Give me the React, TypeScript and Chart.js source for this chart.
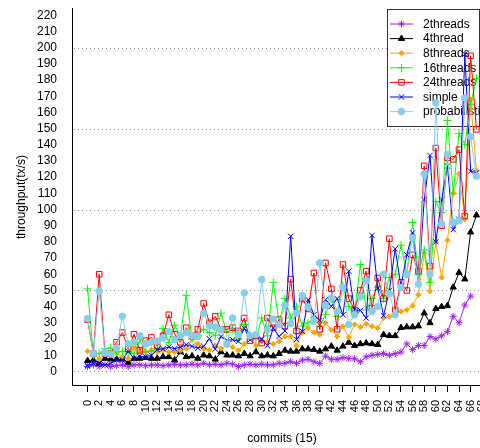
import React, { useEffect, useRef } from 'react';
import { Chart, registerables } from 'chart.js';

Chart.register(...registerables);

// ---------- data ----------
const commits: number[] = Array.from({ length: 68 }, (_, i) => i);

const xTickValues: number[] = [0, 2, 4, 6, 8, 10, 12, 14, 16, 18, 20, 22, 24, 26, 28, 30, 32, 34, 36, 38, 40, 42, 44, 46, 48, 50, 52, 54, 56, 58, 60, 62, 64, 66, 68];
const yTickValues: number[] = [0, 10, 20, 30, 40, 50, 60, 70, 80, 90, 100, 110, 120, 130, 140, 150, 160, 170, 180, 190, 200, 210, 220];
const gridValues: number[] = [0, 50, 100, 150, 200];

const seriesNames: string[] = ['2threads', '4thread', '8threads', '16threads', '24threads', 'simple', 'probabilistic'];

const threads2: (number | null)[] = [
  3, 4, 3, 4, 3, 3.5, 4, 3, 4, 4,
  3.5, 4, 4, 3.5, 4, 4.5, 4, 4, 4.5, 4,
  5, 4, 4.5, 4, 5, 4.5, 3, 4, 4.5, 4,
  4.5, 4, 4, 5, 5, 6, 5, 7, 7.5, 6,
  5, 9.5, 7.5, 7.5, 8.5, 8, 7.8, 6, 9, 10,
  10.5, 11, 10, 11, 12, 17, 13.5, 16, 16, 21.5,
  20, 22, 24.5, 34, 30, 41, 46.5, null,
];
const thread4: number[] = [
  6.6, 7, 5, 8, 7.5, 7.5, 7.5, 5.5, 8, 8,
  8.5, 8, 8, 9, 9, 7, 12, 9, 9.5, 8,
  10, 9.5, 7.5, 12, 10, 10, 9.5, 11, 9.5, 12,
  9.5, 10, 9.5, 11, 13, 12.4, 12.4, 13.8, 13.8, 13.4,
  12.4, 13.8, 15.5, 13, 15.5, 17.9, 15.9, 17, 17.5, 17,
  16.5, 22.7, 22, 22, 27, 27.4, 27.4, 28, 36, 30,
  38.7, 40, 40.5, 52, 61, 57, 86, 96.5,
];
const threads8: number[] = [
  12.4, 12, 7.6, 11, 11, 11, 9, 8, 15, 12,
  12, 13, 12, 13, 12, 12, 13, 14, 20, 17,
  14, 13, 16, 14, 16, 15, 13, 17, 21, 16,
  18.6, 18, 17, 18.6, 21.6, 21.6, 15.9, 24, 26.8, 24,
  22.7, 29.9, 25.8, 21.6, 27.8, 21, 29, 27.4, 29.4, 27.8,
  26.8, 33, 34, 36, 37, 38, 40.6, 47.4, 73, 49.5,
  80, 58, 81, 110, 122, 94, 168, 124,
];
const threads16: number[] = [
  51, 10, 11, 14, 14.4, 12, 12.4, 12, 11, 19.6,
  12, 12.5, 14, 26.4, 18, 28.5, 22, 47, 20, 22,
  26, 24, 22, 36, 24, 26, 20, 29, 22, 20,
  33, 22, 55, 30, 45, 33, 40, 28, 30, 33,
  28, 35, 45, 34, 53, 40, 36, 66, 38, 45,
  52, 45, 58, 60, 78, 60, 92, 60, 75, 55,
  105, 98, 155, 110, 147, 140, 165, 181,
];
const threads24: number[] = [
  32, 11, 60, 11, 11, 18, 24, 14, 23, 13,
  19, 21, 16, 22, 35, 23, 18, 27, 22, 26,
  42, 30, 34, 26, 26, 27, 25, 33, 19, 22,
  17.5, 33, 27, 32, 28, 57, 25, 44.7, 38.6, 60.8,
  26, 67, 51, 26, 66, 45, 38, 50, 62, 39,
  57.7, 45, 82, 38, 55, 50, 72, 62, 127, 65,
  138, 90, 132, 131, 137, 96, 195, 149.5,
];
const simple: number[] = [
  3.7, 5, 5, 4, 5, 7, 7, 12.4, 8, 9.3,
  9, 10, 13.4, 14, 15, 14, 15, 16.5, 15.5, 14.4,
  15.5, 20.2, 13.8, 21.6, 19.2, 19.6, 18.6, 26.6, 19.6, 22,
  20, 15.9, 26.8, 21.6, 25, 83.5, 19.6, 24.7, 44.3, 35,
  31.5, 44.3, 40.2, 45, 35, 61.9, 38, 37.7, 33, 84,
  51.5, 34.4, 50, 75.7, 52.6, 72, 85.6, 53.6, 106, 133.4,
  80, 106, 126.8, 87.6, 94, 196, 123.7, 122.7,
];
const probabilistic: number[] = [
  32.6, 11, 49.5, 11.3, 10.7, 14.4, 34, 17, 18, 22,
  17, 18, 18.8, 20.6, 24.5, 19.6, 22, 24, 22, 21.6,
  36, 28, 27.4, 25.8, 17, 33, 22.7, 48.5, 22, 22.7,
  56.7, 26, 32.4, 28.9, 41, 29.5, 36, 46.8, 39.8, 31,
  67, 40.6, 45.4, 37, 52, 28.9, 35, 46, 55.7, 37,
  40, 60, 48, 35, 52, 60, 82.5, 54, 122, 60,
  166, 91, 134, 92, 93, 169, 145, 120.6,
];

const seriesValues = [threads2, thread4, threads8, threads16, threads24, simple, probabilistic];

// ---------- styles ----------
const FONT = '"Liberation Sans", Arial, Helvetica, sans-serif';
const colors = ['#A020F0', '#000000', '#FFA500', '#00FF00', '#FF0000', '#0000FF', '#87CEEB'];
const markerStyles = ['star', 'triangle', 'rectRot', 'cross', 'rect', 'crossRot', 'circle'];
const markerRadius = [3.5, 3.6, 2.6, 4, 3.9, 3.8, 3.3];
const markerFilled = [false, true, true, false, false, false, true];

function drawMarker(ctx: CanvasRenderingContext2D, style: string, x: number, y: number, r: number, color: string, filled: boolean) {
  ctx.save();
  ctx.strokeStyle = color;
  ctx.fillStyle = color;
  ctx.lineWidth = 1;
  ctx.beginPath();
  switch (style) {
    case 'circle':
      ctx.arc(x, y, r, 0, Math.PI * 2);
      ctx.closePath();
      break;
    case 'triangle':
      ctx.moveTo(x, y - r);
      ctx.lineTo(x + 0.866 * r, y + 0.5 * r);
      ctx.lineTo(x - 0.866 * r, y + 0.5 * r);
      ctx.closePath();
      break;
    case 'rect': {
      const s = Math.SQRT1_2 * r;
      ctx.rect(x - s, y - s, 2 * s, 2 * s);
      break;
    }
    case 'rectRot':
      ctx.moveTo(x, y - r);
      ctx.lineTo(x + r, y);
      ctx.lineTo(x, y + r);
      ctx.lineTo(x - r, y);
      ctx.closePath();
      break;
    case 'cross':
      ctx.moveTo(x, y - r); ctx.lineTo(x, y + r);
      ctx.moveTo(x - r, y); ctx.lineTo(x + r, y);
      break;
    case 'crossRot': {
      const o = Math.SQRT1_2 * r;
      ctx.moveTo(x - o, y - o); ctx.lineTo(x + o, y + o);
      ctx.moveTo(x - o, y + o); ctx.lineTo(x + o, y - o);
      break;
    }
    case 'star': {
      const o = Math.SQRT1_2 * r;
      ctx.moveTo(x, y - r); ctx.lineTo(x, y + r);
      ctx.moveTo(x - r, y); ctx.lineTo(x + r, y);
      ctx.moveTo(x - o, y - o); ctx.lineTo(x + o, y + o);
      ctx.moveTo(x - o, y + o); ctx.lineTo(x + o, y - o);
      break;
    }
  }
  if (filled) ctx.fill();
  ctx.stroke();
  ctx.restore();
}

const decorPlugin = {
  id: 'decor',
  beforeDatasetsDraw(chart: any) {
    const { ctx, chartArea, scales } = chart;
    const ys = scales.y;
    ctx.save();
    // dotted reference lines
    ctx.strokeStyle = '#8c8c8c';
    ctx.lineWidth = 1;
    ctx.setLineDash([1, 3]);
    for (const g of gridValues) {
      const py = Math.round(ys.getPixelForValue(g)) + 0.5;
      ctx.beginPath();
      ctx.moveTo(chartArea.left + 2, py);
      ctx.lineTo(chartArea.right, py);
      ctx.stroke();
    }
    ctx.setLineDash([]);
    // legend box
    const bx = 387.5, by = 9.5, bw = 92, bh = 117;
    ctx.fillStyle = '#ffffff';
    ctx.fillRect(bx, by, bw, bh);
    ctx.strokeStyle = '#333333';
    ctx.strokeRect(bx, by, bw, bh);
    ctx.font = `12px ${FONT}`;
    ctx.textBaseline = 'middle';
    ctx.textAlign = 'left';
    for (let k = 0; k < seriesNames.length; k++) {
      const ry = 24 + k * 14.6;
      ctx.strokeStyle = colors[k];
      ctx.lineWidth = 1;
      ctx.beginPath();
      ctx.moveTo(390, ry);
      ctx.lineTo(413, ry);
      ctx.stroke();
      drawMarker(ctx, markerStyles[k], 401.5, ry, markerRadius[k], colors[k], markerFilled[k]);
      ctx.fillStyle = '#000000';
      ctx.fillText(seriesNames[k], 423, ry + 0.5);
    }
    ctx.restore();
  },
  afterDraw(chart: any) {
    const { ctx, chartArea } = chart;
    ctx.save();
    ctx.fillStyle = '#000000';
    ctx.font = `12px ${FONT}`;
    ctx.textAlign = 'center';
    ctx.textBaseline = 'middle';
    ctx.fillText('commits (15)', (chartArea.left + chartArea.right) / 2, 439);
    ctx.translate(22, 197);
    ctx.rotate(-Math.PI / 2);
    ctx.fillText('throughput(tx/s)', 0, 0);
    ctx.restore();
  },
};

export default function App() {
  const canvasRef = useRef<HTMLCanvasElement | null>(null);

  useEffect(() => {
    if (!canvasRef.current) return;
    const datasets = seriesNames.map((name, k) => ({
      label: name,
      data: seriesValues[k].map((v, i) => ({ x: commits[i], y: v })),
      borderColor: colors[k],
      backgroundColor: colors[k],
      borderWidth: 1,
      pointStyle: markerStyles[k],
      pointRadius: markerRadius[k],
      pointBorderWidth: 1,
      pointBorderColor: colors[k],
      pointBackgroundColor: markerFilled[k] ? colors[k] : 'rgba(0,0,0,0)',
      tension: 0,
      fill: false,
      spanGaps: false,
      order: seriesNames.length - 1 - k,
    }));

    const chart = new Chart(canvasRef.current, {
      type: 'line',
      data: { datasets },
      plugins: [decorPlugin],
      options: {
        animation: false,
        responsive: false,
        devicePixelRatio: 1,
        events: [],
        layout: { padding: { left: 0, top: 8, right: 48, bottom: 0 } },
        plugins: { legend: { display: false }, tooltip: { enabled: false }, title: { display: false } },
        scales: {
          x: {
            type: 'linear',
            min: -2.68,
            max: 69.68,
            afterBuildTicks: (scale: any) => {
              scale.ticks = xTickValues.map((v) => ({ value: v }));
            },
            afterFit: (scale: any) => {
              scale.height = 63;
              scale.paddingLeft = 0;
              scale.paddingRight = 0;
            },
            ticks: {
              autoSkip: false,
              minRotation: 90,
              maxRotation: 90,
              padding: 8,
              color: '#000000',
              font: { family: FONT, size: 11 },
              callback: (v: any) => String(v),
            },
            grid: { drawOnChartArea: false, drawTicks: true, tickLength: 7, color: '#000000', lineWidth: 1 },
            border: { display: true, color: '#000000', width: 1 },
          },
          y: {
            type: 'linear',
            min: -8.4,
            max: 224.5,
            afterBuildTicks: (scale: any) => {
              scale.ticks = yTickValues.map((v) => ({ value: v }));
            },
            afterFit: (scale: any) => {
              scale.width = 72;
              scale.paddingTop = 0;
              scale.paddingBottom = 0;
            },
            ticks: {
              autoSkip: false,
              padding: 15,
              color: '#000000',
              font: { family: FONT, size: 12 },
              callback: (v: any) => String(v),
            },
            grid: { display: false, drawTicks: false },
            border: { display: true, color: '#000000', width: 1 },
          },
        },
      },
    });
    return () => chart.destroy();
  }, []);

  return (
    <div style={{ position: 'absolute', left: 0, top: 0, width: 480, height: 448, overflow: 'hidden', background: '#ffffff' }}>
      <canvas ref={canvasRef} width={540} height={448} style={{ display: 'block' }} />
    </div>
  );
}
